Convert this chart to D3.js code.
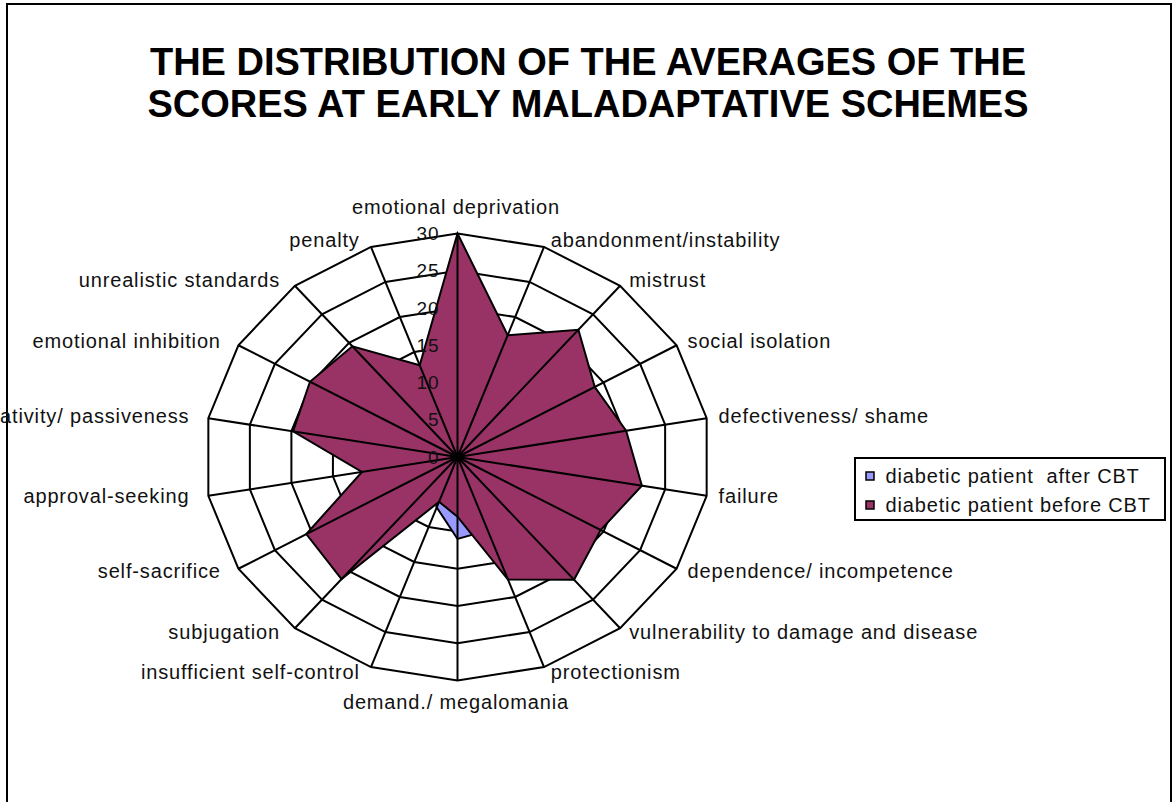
<!DOCTYPE html>
<html><head><meta charset="utf-8">
<script src="https://cdn.jsdelivr.net/npm/d3@7"></script>
<style>
body{margin:0;background:#fff}
svg{display:block}
text{font-family:"Liberation Sans",Arial,sans-serif;fill:#111}
</style>
</head><body>
<svg id="chart" width="1175" height="802"></svg>
<script>
const categories = [
  "emotional deprivation","abandonment/instability","mistrust","social isolation",
  "defectiveness/ shame","failure","dependence/ incompetence",
  "vulnerability to damage and disease","protectionism","demand./ megalomania",
  "insufficient self-control","subjugation","self-sacrifice","approval-seeking",
  "negativity/ passiveness","emotional inhibition","unrealistic standards","penalty"
];
const afterCBT  = [10, 8, 9, 7, 8, 9, 7, 8, 10.5, 11, 7.2, 5, 6, 5, 7, 6, 8, 5];
const beforeCBT = [30, 17.4, 22.3, 18.8, 20.3, 22.2, 19.6, 21.5, 17.5, 8, 6.4, 21.4, 20.7, 11.5, 19.8, 20.2, 19.4, 13.1];
const tickValues = [0, 5, 10, 15, 20, 25, 30];
const seriesNames = ["diabetic patient  after CBT", "diabetic patient before CBT"];
const seriesColors = ["#9999FF", "#993366"];
const titleLines = ["THE DISTRIBUTION OF THE AVERAGES OF THE", "SCORES AT EARLY MALADAPTATIVE SCHEMES"];

const svg = d3.select("#chart");
const cx = 457.5, cy = 457, RX = 253, RY = 223.5;
const LS = 0.85;

// frame
svg.append("rect").attr("x", 7).attr("y", 4).attr("width", 1164).attr("height", 830)
  .attr("fill", "#fff").attr("stroke", "#000").attr("stroke-width", 2);

// title
svg.append("g").selectAll("text").data(titleLines).join("text")
  .attr("x", 588).attr("y", (d, i) => 75 + i * 42)
  .attr("text-anchor", "middle")
  .style("font-size", "38px").style("font-weight", "bold").style("fill", "#000")
  .text(d => d);

const rx = d3.scaleLinear().domain([0, 30]).range([0, RX]);
const ry = d3.scaleLinear().domain([0, 30]).range([0, RY]);
const ang = d3.scaleLinear().domain([0, categories.length]).range([0, 2 * Math.PI]);

const px = (i, v) => cx + rx(v) * Math.sin(ang(i));
const py = (i, v) => cy - ry(v) * Math.cos(ang(i));

const idx = d3.range(categories.length);
const line = d3.line().curve(d3.curveLinearClosed);

// rings
svg.append("g").selectAll("path").data(tickValues.filter(t => t > 0)).join("path")
  .attr("d", t => line(idx.map(i => [px(i, t), py(i, t)])))
  .attr("fill", "none").attr("stroke", "#000").attr("stroke-width", 2);

// series
const series = [afterCBT, beforeCBT];
svg.append("g").selectAll("path").data(series).join("path")
  .attr("d", s => line(s.map((v, i) => [px(i, v), py(i, v)])))
  .attr("fill", (d, k) => seriesColors[k])
  .attr("stroke", "#000").attr("stroke-width", 2).attr("stroke-linejoin", "miter");

// spokes
svg.append("g").selectAll("line").data(idx).join("line")
  .attr("x1", cx).attr("y1", cy)
  .attr("x2", i => px(i, 30)).attr("y2", i => py(i, 30))
  .attr("stroke", "#000").attr("stroke-width", 2);

// tick labels
svg.append("g").selectAll("text").data(tickValues).join("text")
  .attr("x", cx - 19 + LS).attr("y", t => cy - ry(t) + 6.5)
  .attr("text-anchor", "end")
  .style("font-size", "19px").style("letter-spacing", LS + "px")
  .text(t => t);

// category labels
svg.append("g").selectAll("text").data(idx).join("text")
  .each(function(i) {
    const a = ang(i), s = Math.sin(a), c = Math.cos(a);
    const ox = px(i, 30), oy = py(i, 30);
    const t = d3.select(this);
    if (Math.abs(s) < 0.1) {
      t.attr("text-anchor", "middle").attr("x", ox - 2 + LS / 2)
       .attr("y", c > 0 ? oy - 20 : oy + 28);
    } else if (s > 0) {
      t.attr("text-anchor", "start").attr("x", ox + 4 + 8 * s)
       .attr("y", oy + 6 - 6 * c);
    } else {
      t.attr("text-anchor", "end").attr("x", ox - (8 + 12 * Math.abs(s)) + LS)
       .attr("y", oy + 6 - 6 * c);
    }
  })
  .style("font-size", "20px").style("letter-spacing", LS + "px")
  .text(i => categories[i]);

// legend
const lg = svg.append("g");
lg.append("rect").attr("x", 855).attr("y", 458).attr("width", 310).attr("height", 62)
  .attr("fill", "#fff").attr("stroke", "#000").attr("stroke-width", 2);
const rows = lg.selectAll("g").data(seriesNames).join("g")
  .attr("transform", (d, k) => `translate(0,${476 + k * 29})`);
rows.append("rect").attr("x", 866).attr("y", -4).attr("width", 8).attr("height", 8)
  .attr("fill", (d, k) => seriesColors[k]).attr("stroke", "#000").attr("stroke-width", 1.5);
rows.append("text").attr("x", 885.5).attr("y", 7)
  .style("font-size", "20px").style("letter-spacing", LS + "px").style("white-space", "pre")
  .text(d => d);
</script>
</body></html>
